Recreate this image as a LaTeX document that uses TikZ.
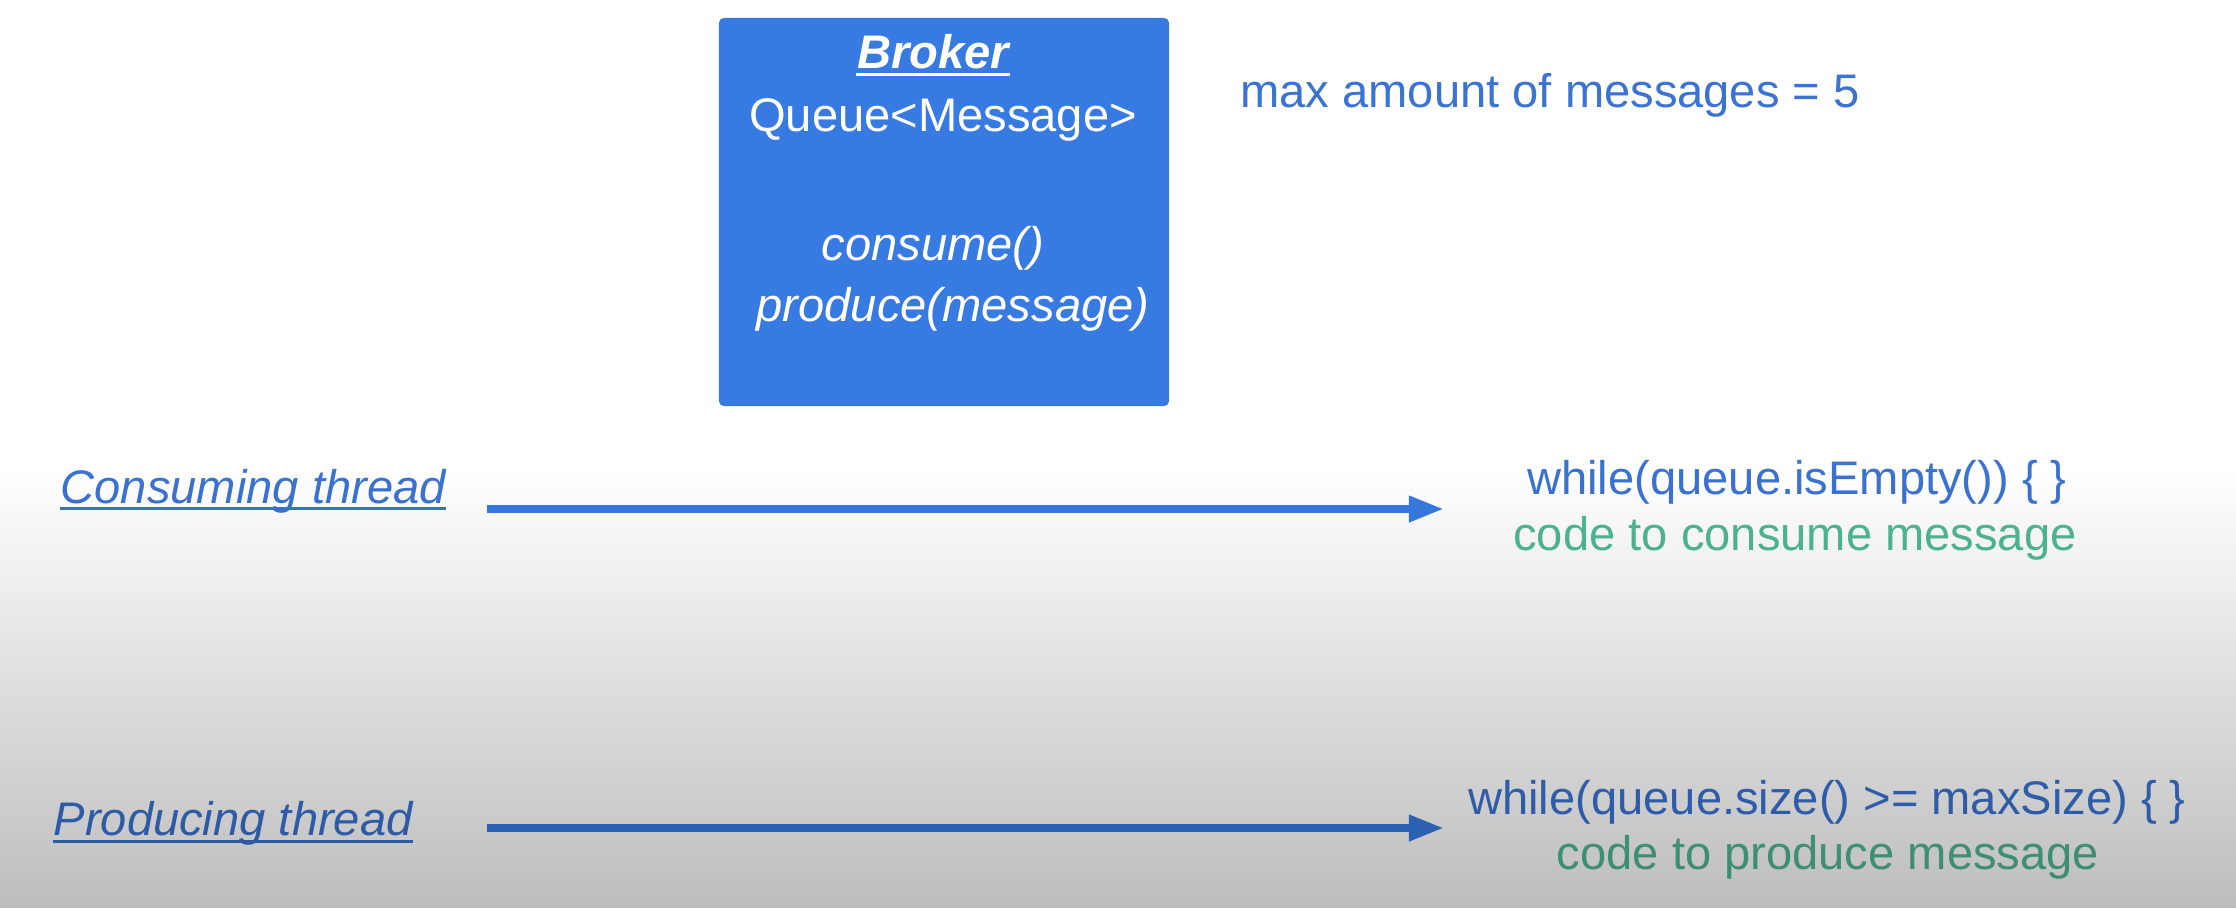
\documentclass[tikz,border=0pt]{standalone}
\usepackage{fontspec}
\setmainfont{Liberation Sans}
\usetikzlibrary{arrows.meta}
\usetikzlibrary{fadings}

\definecolor{boxblue}{HTML}{377AE1}
\definecolor{textblue}{HTML}{3B73D2}
\definecolor{codegreen}{HTML}{50BA95}

\tikzfading[name=fade down, top color=transparent!100, bottom color=transparent!0]

\tikzset{
    txt/.style={inner sep=0, anchor=base, font=\fontsize{13.4}{16}\selectfont},
    boxtxt/.style={txt, text=white},
    bluetxt/.style={txt, text=textblue},
    greentxt/.style={txt, text=codegreen},
    threadtxt/.style={txt, text=textblue, font=\fontsize{13.4}{16}\selectfont\itshape},
    brokerbox/.style={fill=boxblue, rounded corners=1.5pt, minimum width=4.5cm, minimum height=3.88cm, inner sep=0},
    flow/.style={-{Triangle[length=10pt, width=7pt]}, line width=2.3pt, draw=boxblue},
    uline/.style={line width=0.8pt}
}

\begin{document}
\begin{tikzpicture}[x=0.01cm, y=-0.01cm]
    \useasboundingbox (0,0) rectangle (2236,908);
    \fill[white] (0,0) rectangle (2236,908);

    % broker
    \node[brokerbox] (broker) at (944,212) {};
    \node[boxtxt, font=\fontsize{13.4}{16}\selectfont\bfseries\itshape] (title) at (933,68) {Broker};
    \draw[uline, white] ([yshift=-1.9pt]title.base west) -- ([yshift=-1.9pt]title.base east);
    \node[boxtxt] (queue) at (943,131) {Queue<Message>};
    \node[boxtxt, font=\fontsize{13.4}{16}\selectfont\itshape] (consume) at (933,260) {consume()};
    \node[boxtxt, font=\fontsize{13.4}{16}\selectfont\itshape] (produce) at (953,321) {produce(message)};

    \node[bluetxt] (max) at (1550,107) {max amount of messages = 5};

    % threads
    \node[threadtxt, anchor=base west] (cthread) at (60,503) {Consuming thread};
    \draw[uline, textblue] ([yshift=-1.6pt]cthread.base west) -- ([yshift=-1.6pt]cthread.base east);
    \node[threadtxt, anchor=base west] (pthread) at (53,835) {Producing thread};
    \draw[uline, textblue] ([yshift=-1.9pt]pthread.base west) -- ([yshift=-1.9pt]pthread.base east);

    \coordinate (cfrom) at (487,509);
    \coordinate (cto) at (1444,509);
    \coordinate (pfrom) at (487,828);
    \coordinate (pto) at (1444,828);
    \draw[flow] (cfrom) -- (cto);
    \draw[flow] (pfrom) -- (pto);

    % code
    \node[bluetxt] (cwait) at (1797,494) {while(queue.isEmpty()) \{ \}};
    \node[greentxt] (cwork) at (1795,550) {code to consume message};
    \node[bluetxt] (pwait) at (1827,814) {while(queue.size() >= maxSize) \{ \}};
    \node[greentxt] (pwork) at (1828,869) {code to produce message};

    % shade
    \fill[black, fill opacity=0.26, path fading=fade down] (0,470) rectangle (2236,908);
\end{tikzpicture}
\end{document}
